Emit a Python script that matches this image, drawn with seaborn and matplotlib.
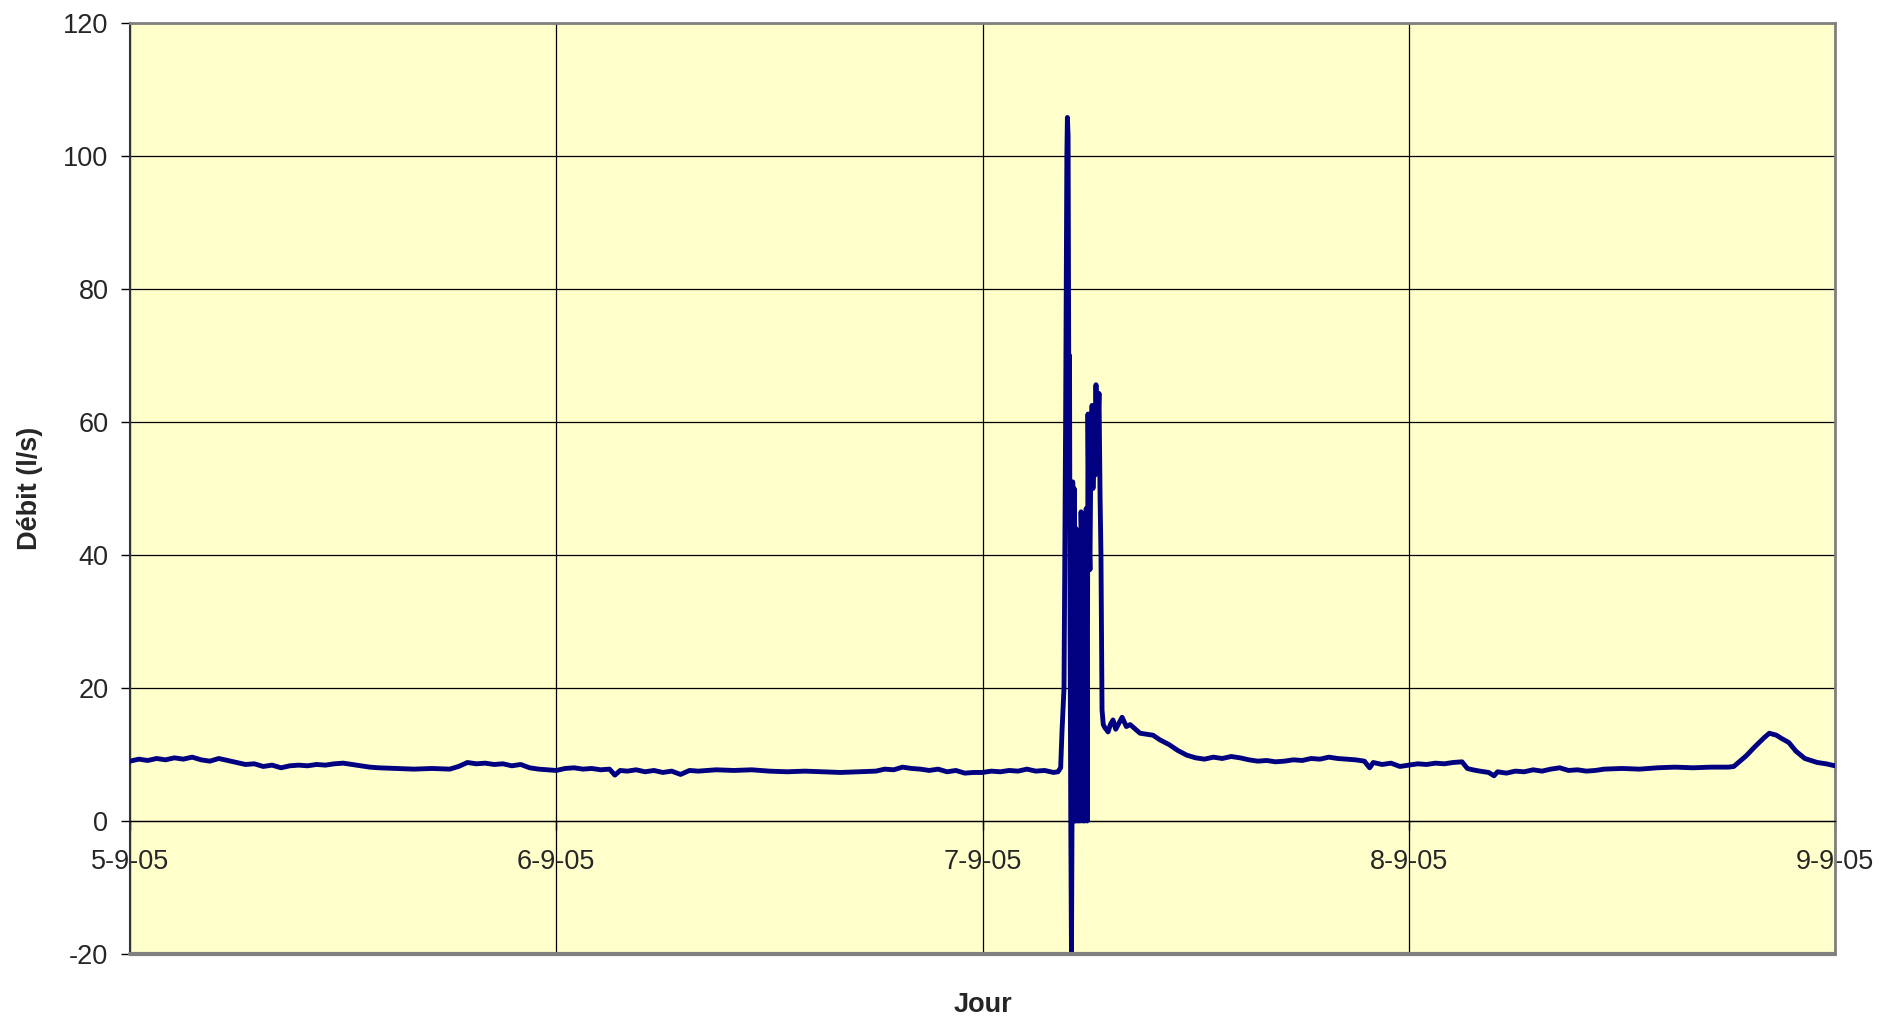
import matplotlib
matplotlib.use('Agg')
import matplotlib.pyplot as plt
import matplotlib.dates as mdates
import seaborn as sns
import pandas as pd

# hours since 5-9-05 00:00 and flow (l/s)
heures = [
    0, 0.5, 1, 1.5, 2, 2.5, 3, 3.5, 4, 4.5, 5, 5.5, 6, 6.5, 7, 7.5, 8, 8.5, 9, 9.5,
    10, 10.5, 11, 11.5, 12, 12.5, 13, 13.5, 14, 15, 16, 17, 18, 18.5, 19, 19.5,
    20, 20.5, 21, 21.5, 22, 22.5, 23, 23.5, 24,
    24.5, 25, 25.5, 26, 26.5, 27, 27.3, 27.6, 28, 28.5, 29, 29.5, 30, 30.5, 31, 31.5,
    32, 33, 34, 35, 36, 37, 38, 39, 40, 41, 42, 42.5, 43, 43.5, 44, 44.5, 45, 45.5,
    46, 46.5, 47, 47.5, 48,
    48.5, 49, 49.5, 50, 50.5, 51, 51.5, 52, 52.25, 52.4, 52.48, 52.59, 52.68, 52.75,
    52.78, 52.82, 52.86, 52.9, 52.93, 52.97, 53.01, 53.04, 53.08, 53.12, 53.16, 53.21,
    53.26, 53.3, 53.35, 53.4, 53.45, 53.5, 53.55, 53.6, 53.65, 53.7, 53.75, 53.8,
    53.84, 53.89, 53.94, 53.99, 54.05, 54.1, 54.17, 54.22, 54.28, 54.34, 54.39, 54.45,
    54.51, 54.56, 54.62, 54.67, 54.73, 54.8, 54.9, 55.07, 55.2, 55.35, 55.5, 55.86,
    56.1, 56.31, 56.87, 57.6, 57.99, 58.5, 59, 59.5, 60, 60.5, 61, 61.5, 62, 62.5,
    63, 63.5, 64, 64.5, 65, 65.5, 66, 66.5, 67, 67.5, 68, 68.5, 69, 69.5, 69.8, 70,
    70.5, 71, 71.5, 72,
    72.5, 73, 73.5, 74, 74.5, 75, 75.3, 75.6, 76, 76.5, 76.8, 77, 77.5, 78, 78.5,
    79, 79.5, 80, 80.5, 81, 81.5, 82, 82.5, 83, 84, 85, 86, 87, 88, 89, 90, 90.3,
    91, 91.5, 92, 92.3, 92.7, 93, 93.4, 93.8, 94.3, 95, 95.5, 96,
]
debit = [
    9.0, 9.3, 9.1, 9.4, 9.2, 9.5, 9.3, 9.6, 9.2, 9.0, 9.4, 9.1, 8.8, 8.5, 8.6, 8.2, 8.4, 8.0, 8.3, 8.4,
    8.3, 8.5, 8.4, 8.6, 8.7, 8.5, 8.3, 8.1, 8.0, 7.9, 7.8, 7.9, 7.8, 8.2, 8.8, 8.6,
    8.7, 8.5, 8.6, 8.3, 8.5, 8.0, 7.8, 7.7, 7.6,
    7.9, 8.0, 7.8, 7.9, 7.7, 7.8, 6.9, 7.6, 7.5, 7.7, 7.4, 7.6, 7.3, 7.5, 7.0, 7.6,
    7.5, 7.7, 7.6, 7.7, 7.5, 7.4, 7.5, 7.4, 7.3, 7.4, 7.5, 7.8, 7.7, 8.1, 7.9, 7.8, 7.6, 7.8,
    7.4, 7.6, 7.2, 7.3, 7.3,
    7.5, 7.4, 7.6, 7.5, 7.8, 7.5, 7.6, 7.3, 7.4, 8.0, 13.7, 20, 60, 100,
    105.8, 103, 63, 70, 30, 0, -20, 0, 51, 0, 50, 0,
    44, 0, 38, 0, 43.7, 0, 46.5, 40, 0, 45, 0, 42,
    47, 0, 61.2, 45, 37.8, 55, 62.5, 50, 57, 52, 65.6, 53,
    60, 64.3, 48.7, 40, 16.7, 14.5, 14.0, 13.4, 14.5, 15.2, 13.8, 15.6,
    14.2, 14.5, 13.2, 12.9, 12.2, 11.5, 10.6, 9.9, 9.5, 9.3, 9.6, 9.4, 9.7, 9.5,
    9.2, 9.0, 9.1, 8.9, 9.0, 9.2, 9.1, 9.4, 9.3, 9.6, 9.4, 9.3, 9.2, 9.0, 8.0, 8.8,
    8.5, 8.7, 8.2, 8.4,
    8.6, 8.5, 8.7, 8.6, 8.8, 8.9, 7.9, 7.7, 7.5, 7.3, 6.8, 7.4, 7.2, 7.5, 7.4,
    7.7, 7.5, 7.8, 8.0, 7.6, 7.7, 7.5, 7.6, 7.8, 7.9, 7.8, 8.0, 8.1, 8.0, 8.1, 8.1, 8.2,
    9.8, 11.2, 12.5, 13.2, 12.9, 12.4, 11.8, 10.5, 9.4, 8.8, 8.6, 8.3,
]
jours = ['2005-09-05', '2005-09-06', '2005-09-07', '2005-09-08', '2005-09-09']

df = pd.DataFrame({'heure': heures, 'debit': debit})
df['date'] = pd.Timestamp(jours[0]) + pd.to_timedelta(df['heure'], unit='h')

sns.set_theme(style='white')
plt.rcParams['font.family'] = ['Liberation Sans', 'DejaVu Sans']
plt.rcParams['axes.unicode_minus'] = False

fig, ax = plt.subplots(figsize=(18.99, 10.24), dpi=100)
fig.subplots_adjust(left=130/1899, right=1835/1899, top=1-23/1024, bottom=1-954/1024)
ax.set_facecolor('#FFFFCC')

sns.lineplot(data=df, x='date', y='debit', ax=ax, color='#000080', linewidth=3.5, zorder=3)

ax.set_ylim(-20, 120)
ax.set_yticks(range(-20, 121, 20))
ax.set_xlim(pd.Timestamp(jours[0]), pd.Timestamp(jours[-1]))
ax.set_xticks(pd.to_datetime(jours))
ax.xaxis.set_major_formatter(mdates.DateFormatter('%-d-%-m-%y'))
ax.grid(True, color='black', linewidth=0.9)
ax.set_axisbelow(True)

# x axis crosses at 0 like the original
ax.spines['bottom'].set_position(('data', 0))
ax.spines['bottom'].set_color('black')
ax.spines['bottom'].set_linewidth(0.9)
for s in ['top', 'right']:
    ax.spines[s].set_color('#808080')
    ax.spines[s].set_linewidth(2)
ax.spines['left'].set_color('#333333')
ax.spines['left'].set_linewidth(1.5)
ax.axhline(-20, color='#808080', linewidth=3, clip_on=False, zorder=4)

ax.tick_params(axis='x', direction='out', length=6.5, width=1, color='black',
               labelsize=19.5, pad=14, bottom=True)
ax.tick_params(axis='y', direction='out', length=6.5, width=1, color='black',
               labelsize=19.5, pad=9, left=True)

ax.set_xlabel('Jour', fontsize=19.5, fontweight='bold')
ax.set_ylabel('Débit (l/s)', fontsize=19.5, fontweight='bold')
ax.xaxis.set_label_coords(0.5, (954-1005)/931)
ax.xaxis.label.set_va('center')
ax.yaxis.set_label_coords((30-130)/1705, 0.5)
ax.yaxis.label.set_va('center')

fig.savefig('out.png', dpi=100)
